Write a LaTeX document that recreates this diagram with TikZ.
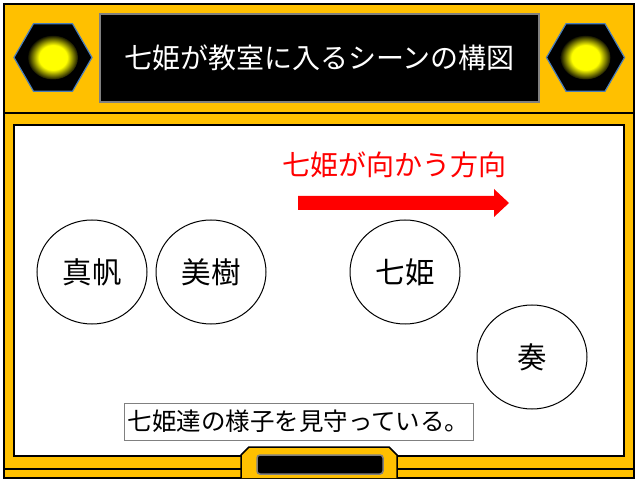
\documentclass[tikz,border=0pt]{standalone}
\usepackage{fontspec}
\setmainfont{Noto Sans CJK JP}
\usepackage{tikz}
\usetikzlibrary{shapes.geometric}
\usetikzlibrary{positioning}
\definecolor{frameyellow}{HTML}{FFC000}
\definecolor{hexblue}{HTML}{4A7EBB}
\pgfdeclareradialshading{lampglow}{\pgfpoint{0bp}{0bp}}{color(0bp)=(yellow); color(14bp)=(yellow); color(26bp)=(black); color(50bp)=(black)}
\tikzstyle{lamp_hex}=[regular polygon, regular polygon sides=6, minimum size=78pt, inner sep=0pt, fill=black, draw=hexblue, line width=1.2pt]
\tikzstyle{lamp_glow}=[ellipse, minimum width=50pt, minimum height=44pt, inner sep=0pt, shade, shading=lampglow]
\tikzstyle{person}=[ellipse, draw=black, line width=1pt, fill=white, minimum width=110pt, minimum height=104pt, inner sep=0pt, font=\fontsize{29.5}{31}\selectfont]

\begin{document}
\begin{tikzpicture}[x=1pt, y=-1pt]
\useasboundingbox (0,0) rectangle (640,486);
% frame and board
\draw[fill=frameyellow, line width=1.5pt] (4,4) rectangle (634,478);
\draw[line width=1.5pt] (4,113) -- (634,113);
\draw[line width=1.5pt] (4,469) -- (634,469);
\draw[fill=white, line width=1.5pt] (14,125) rectangle (624,456);
\draw[fill=frameyellow, line width=1.5pt] (241,478) -- (241,455) -- (249,447) -- (389,447) -- (397,455) -- (397,478);
\draw[fill=black, draw=gray, line width=1.5pt, rounded corners=3pt] (257,455) rectangle (383,474);
% lamps and title
\node[lamp_hex] (hexL) at (53,57.5){};
\node[lamp_glow] (glowL) at (hexL.center){};
\node[lamp_hex] (hexR) at (585.5,57.5){};
\node[lamp_glow] (glowR) at (hexR.center){};
\node[draw=gray, line width=1.5pt, fill=black, minimum width=439pt, minimum height=88pt, text=white, font=\fontsize{28}{30}\selectfont] (title) at (319.5,58){七姫が教室に入るシーンの構図};
% people
\node[person] (maho) at (92,272){真帆};
\node[person, right=8pt of maho] (miki){美樹};
\node[person] (nanaki) at (405,272){七姫};
\node[person] (kanade) at (532,357){奏};
% direction
\node[text=red, font=\fontsize{28}{30}\selectfont] (dirlabel) at (394,165){七姫が向かう方向};
\fill[red] (298,196) -- (494,196) -- (494,189) -- (509,203) -- (494,217) -- (494,210) -- (298,210) -- cycle;
\node[draw=gray, fill=white, minimum width=349pt, minimum height=37pt, font=\fontsize{24.5}{26}\selectfont] (caption) at (298.5,421.5){七姫達の様子を見守っている。};
\end{tikzpicture}
\end{document}
